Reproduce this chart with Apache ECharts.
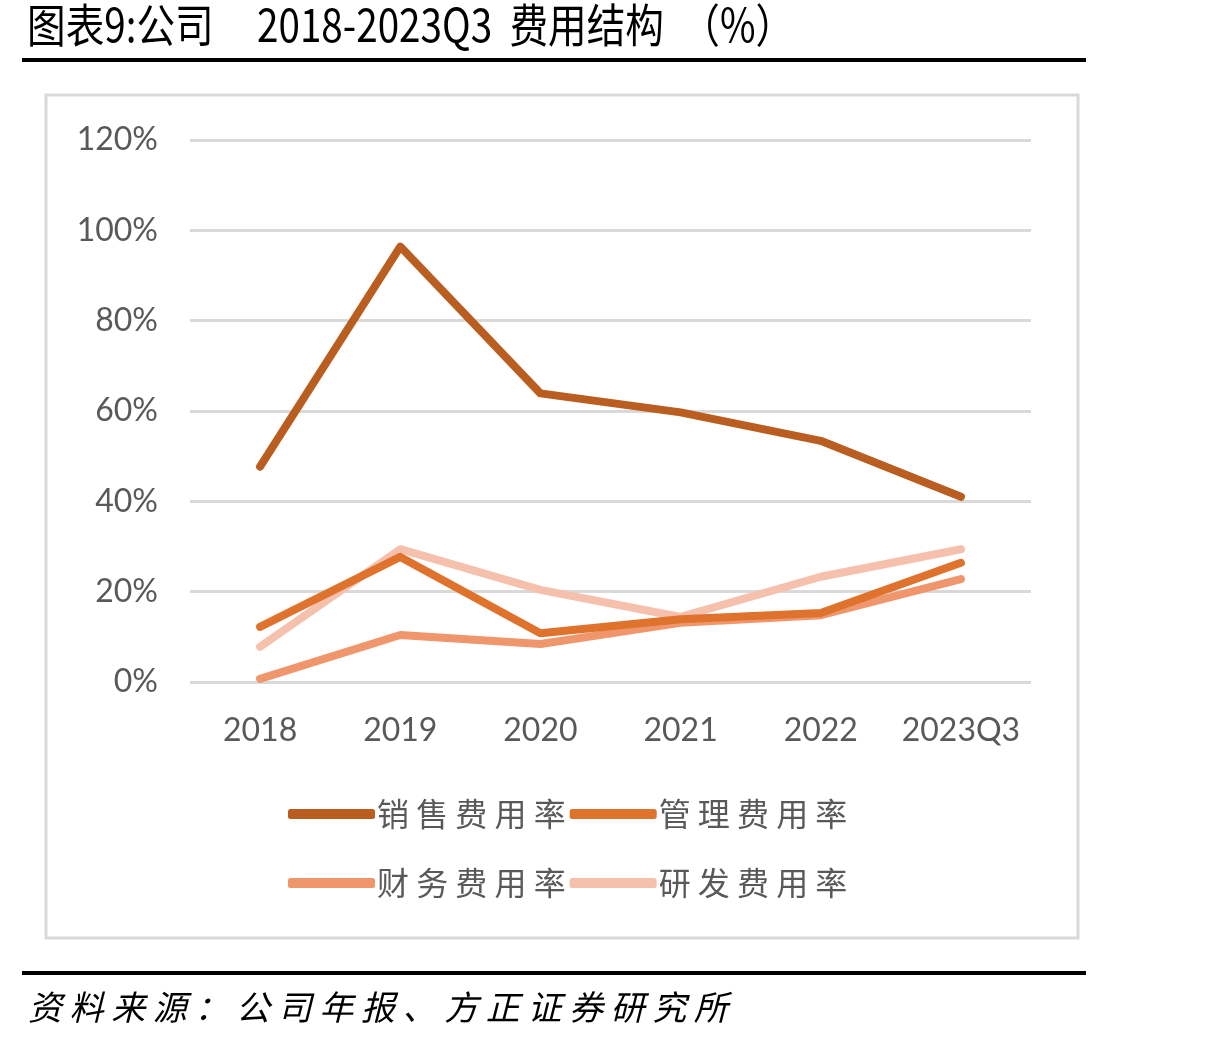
<!DOCTYPE html>
<html><head><meta charset="utf-8">
<script src="https://cdn.jsdelivr.net/npm/echarts@6/dist/echarts.min.js"></script>
<style>html,body{margin:0;padding:0;background:#fff;}#c{width:1212px;height:1045px;}</style>
</head><body><div id="c"></div>
<script>
const categories = ['2018','2019','2020','2021','2022','2023Q3'];
const seriesNames = ['销售费用率','管理费用率','财务费用率','研发费用率'];
const sales = [47.7, 96.4, 63.9, 59.7, 53.4, 41.0];
const admin = [12.2, 27.7, 10.8, 13.9, 15.3, 26.4];
const finance = [0.7, 10.4, 8.4, 13.1, 14.8, 22.8];
const rnd = [7.8, 29.4, 20.4, 14.4, 23.3, 29.4];
const yTicks = [0, 20, 40, 60, 80, 100, 120];
const colors = ['#B95E20', '#DF732E', '#F0966C', '#F5C1AD'];

const chart = echarts.init(document.getElementById('c'));
const allData = [sales, admin, finance, rnd];
const axisFont = 'Lato, "Noto Sans", sans-serif';
const cjkFont = '"Noto Sans CJK SC", sans-serif';
const spaced = s => s.split('').join(' ');
chart.setOption({
  animation: false,
  backgroundColor: '#fff',
  graphic: [
    {type:'text', x: 27, y: 2, scaleX: 0.84, scaleY: 1, style:{
      text:'图表9:公司     2018-2023Q3  费用结构  （%）',
      font:'normal 46px "Noto Sans CJK SC"', fill:'#000'}},
    {type:'rect', shape:{x:22, y:58, width:1064, height:4}, style:{fill:'#000'}},
    {type:'rect', shape:{x:46, y:95, width:1032, height:843}, style:{fill:'none', stroke:'#D9D9D9', lineWidth:3}},
    {type:'rect', shape:{x:22, y:971, width:1064, height:4}, style:{fill:'#000'}},
    {type:'text', left: 28, top: 990, style:{text:spaced('资料来源：公司年报、方正证券研究所'), font:'italic 34px "Noto Sans CJK SC"', fill:'#000'}}
  ],
  legend: [
    {data: seriesNames.slice(0,2), left: 283, top: 793, itemWidth: 87, itemHeight: 10, itemGap: 4, icon: 'roundRect',
     formatter: spaced,
     textStyle:{fontFamily: cjkFont, fontSize: 32, color:'#595959', padding:[0,0,0,-3]}},
    {data: seriesNames.slice(2,4), left: 283, top: 862, itemWidth: 87, itemHeight: 10, itemGap: 4, icon: 'roundRect',
     formatter: spaced,
     textStyle:{fontFamily: cjkFont, fontSize: 32, color:'#595959', padding:[0,0,0,-3]}}
  ],
  grid: {left: 190, right: 181, top: 140, bottom: 363},
  xAxis: {
    type: 'category', data: categories, boundaryGap: true,
    axisLine:{show:false}, axisTick:{show:false},
    axisLabel:{interval: 0, fontFamily: axisFont, fontSize: 32, color:'#595959', margin: 33}
  },
  yAxis: {
    type: 'value', min: 0, max: 120, interval: 20,
    axisLine:{show:false}, axisTick:{show:false},
    axisLabel:{fontFamily: axisFont, fontSize: 32, color:'#595959', margin: 32, formatter: v => yTicks.includes(v) ? v + '%' : ''},
    splitLine:{lineStyle:{color:'#D9D9D9', width: 3}}
  },
  series: seriesNames.map((n, i) => ({
    name: n, type: 'line', data: allData[i], symbol: 'none',
    lineStyle:{color: colors[i], width: 8, cap: 'round', join: 'round'},
    itemStyle:{color: colors[i]}, z: 10 - i
  }))
});
</script></body></html>
